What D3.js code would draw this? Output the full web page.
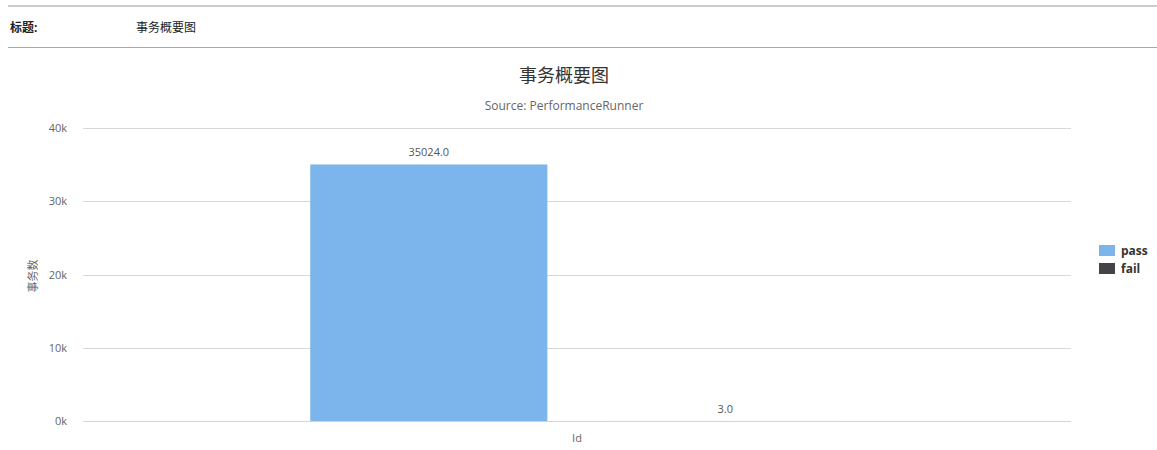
<!DOCTYPE html>
<html><head><meta charset="utf-8">
<script src="https://cdn.jsdelivr.net/npm/d3@7"></script>
<style>
body{margin:0;background:#fff;font-family:"Open Sans","Noto Sans CJK SC",sans-serif;}
svg{display:block}
</style></head>
<body>
<svg id="c" width="1157" height="450"></svg>
<script>
const categories = ["Id"];
const seriesNames = ["pass", "fail"];
const passValues = [35024.0];
const failValues = [3.0];
const yTicks = [0, 10000, 20000, 30000, 40000];
const seriesColors = ["#7cb5ec", "#434348"];

(function(){
const svg = d3.select("#c");
const font = '"Open Sans","Noto Sans CJK SC",sans-serif';

// header
svg.append("line").attr("x1",8).attr("x2",1157).attr("y1",6).attr("y2",6).attr("stroke","#ccc").attr("stroke-width",2);
svg.append("line").attr("x1",8).attr("x2",1157).attr("y1",47.5).attr("y2",47.5).attr("stroke","#aaa").attr("stroke-width",1);
svg.append("text").attr("x",10).attr("y",32).attr("font-size",12).attr("font-weight","bold").attr("fill","#222").attr("font-family",font).text("标题:");
svg.append("text").attr("x",136).attr("y",32).attr("font-size",12).attr("fill","#222").attr("font-family",font).text("事务概要图");

// chart
const pLeft = 83, pRight = 1071, pTop = 128, pBottom = 421;
const x = d3.scaleBand().domain(categories).range([pLeft, pRight]).paddingInner(0).paddingOuter(0);
const y = d3.scaleLinear().domain([0, 40000]).range([pBottom, pTop]);

svg.append("text").attr("x",564).attr("y",82).attr("text-anchor","middle").attr("font-size",18).attr("fill","#333").attr("font-family",font).text("事务概要图");
svg.append("text").attr("x",564).attr("y",110).attr("text-anchor","middle").attr("font-size",12).attr("fill","#666").attr("font-family",font).text("Source: PerformanceRunner");

// grid
const yAxis = d3.axisLeft(y).tickValues(yTicks).tickSize(0).tickPadding(0).tickFormat(d => (d/1000) + "k");
const ga = svg.append("g").attr("transform",`translate(${pLeft},0)`).call(yAxis);
ga.select(".domain").remove();
ga.selectAll(".tick text").attr("x",-16).attr("font-size",11).attr("fill","#666").attr("font-family",font);
ga.selectAll(".tick").append("line").attr("x1",0).attr("x2",pRight-pLeft).attr("stroke",d=> d===0 ? "#ccd6eb" : "#d8d8d8").attr("stroke-width",1).attr("shape-rendering","crispEdges");

svg.append("text").attr("transform","translate(37,276) rotate(-90)").attr("text-anchor","middle").attr("font-size",11).attr("fill","#666").attr("font-family",font).text("事务数");

// bars
const series = [passValues, failValues];
const groupPad = 0.2, pointPad = 0.1;
categories.forEach((c, ci) => {
  const cx = x(c), bw = x.bandwidth();
  const gStart = cx + bw*groupPad, gW = bw*(1-2*groupPad);
  const slot = d3.scaleBand().domain(seriesNames).range([gStart, gStart+gW]);
  series.forEach((vals, si) => {
    const sx = slot(seriesNames[si]), sw = slot.bandwidth();
    const bx = sx + sw*pointPad, bwid = sw*(1-2*pointPad);
    const v = vals[ci];
    const yTop = y(v);
    svg.append("rect").attr("x",bx).attr("y",yTop).attr("width",bwid).attr("height",Math.max(0,y(0)-yTop)).attr("fill",seriesColors[si]);
    svg.append("text").attr("x",bx+bwid/2).attr("y",yTop-8).attr("text-anchor","middle").attr("font-size",11).attr("fill","#555").attr("font-family",font).text(v.toFixed(1));
  });
});

// x axis label
svg.selectAll(".xl").data(categories).enter().append("text").attr("x",d=>x(d)+x.bandwidth()/2).attr("y",442).attr("text-anchor","middle").attr("font-size",11).attr("fill","#666").attr("font-family",font).text(d=>d);

// legend
seriesNames.forEach((n,i)=>{
  const ly = 245 + i*18;
  svg.append("rect").attr("x",1099).attr("y",ly).attr("width",16).attr("height",11).attr("fill",seriesColors[i]);
  svg.append("text").attr("x",1121).attr("y",ly+10).attr("font-size",12).attr("font-weight","bold").attr("fill","#333").attr("font-family",font).text(n);
});
})();
</script>
</body></html>
